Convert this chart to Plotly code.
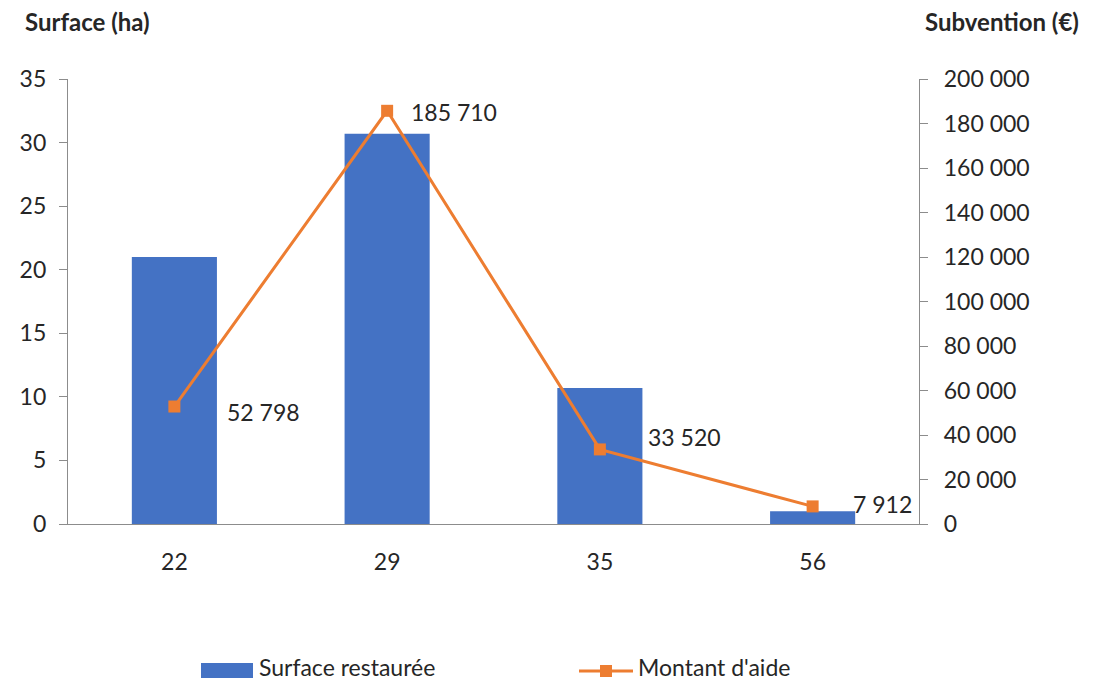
import plotly.graph_objects as go

categories = ["22", "29", "35", "56"]
surface_ha = [21.0, 30.7, 10.7, 1.0]
subvention_eur = [52798, 185710, 33520, 7912]

left_ticks = [0, 5, 10, 15, 20, 25, 30, 35]
right_ticks = [0, 20000, 40000, 60000, 80000, 100000, 120000, 140000,
               160000, 180000, 200000]

# label placement offsets (pixels) for the data labels of the line
label_dx = [51, 22, 46, 38]
label_dy = [-5, -1, 12, 2]

BLUE = "#4472C4"
ORANGE = "#ED7D31"
TXT = "#262626"
AX = "#8c8c8c"
FONT = "Lato"
FS = 23

# page body has an 8px offset; figure coords = page coords - 8
OFF = 8
PL, PR, PT, PB = 68 - OFF, 919 - OFF, 79 - OFF, 524 - OFF
W, H = 1109 - OFF, 682 - OFF


def fmt(v):
    return f"{v:,}".replace(",", " ")


fig = go.Figure()
fig.add_trace(go.Bar(
    x=categories, y=surface_ha, name="Surface restaurée",
    marker=dict(color=BLUE, line=dict(width=0)), width=0.4,
    yaxis="y", showlegend=False,
))
fig.add_trace(go.Scatter(
    x=categories, y=subvention_eur, name="Montant d'aide",
    mode="lines+markers",
    line=dict(color=ORANGE, width=3),
    marker=dict(symbol="square", size=12, color=ORANGE),
    yaxis="y2", showlegend=False, cliponaxis=False,
))

for i, (v, dx, dy) in enumerate(zip(subvention_eur, label_dx, label_dy)):
    fig.add_annotation(x=i, y=v, xref="x", yref="y2", text=fmt(v),
                       showarrow=False, xanchor="left", yanchor="middle",
                       xshift=dx, yshift=dy,
                       font=dict(family=FONT, size=FS, color=TXT))

fig.update_layout(
    width=W, height=H,
    margin=dict(l=PL, r=W - PR, t=PT, b=H - PB),
    paper_bgcolor="white", plot_bgcolor="white",
    font=dict(family=FONT, size=FS, color=TXT),
    xaxis=dict(
        type="category", range=[-0.5, 3.5],
        showline=True, linecolor=AX, linewidth=1.3,
        ticks="", showgrid=False, zeroline=False,
        tickfont=dict(family=FONT, size=FS, color=TXT),
        ticklabelstandoff=17,
    ),
    yaxis=dict(
        range=[0, 35], tickvals=left_ticks,
        showline=True, linecolor=AX, linewidth=1.3,
        ticks="outside", ticklen=8, tickcolor=AX, tickwidth=1.3,
        showgrid=False, zeroline=False,
        tickfont=dict(family=FONT, size=FS, color=TXT),
        ticklabelstandoff=8,
    ),
    yaxis2=dict(
        overlaying="y", side="right",
        range=[0, 200000], tickvals=right_ticks,
        ticktext=[fmt(v) for v in right_ticks],
        showline=True, linecolor=AX, linewidth=1.3,
        ticks="outside", ticklen=8, tickcolor=AX, tickwidth=1.3,
        showgrid=False, zeroline=False,
        tickfont=dict(family=FONT, size=FS, color=TXT),
        ticklabelstandoff=11,
    ),
)

PW, PH = PR - PL, PB - PT


def px(xp):
    return (xp - OFF - PL) / PW


def py(yp):
    return (PB - (yp - OFF)) / PH


# axis titles
fig.add_annotation(xref="paper", yref="paper", x=px(23), y=py(22),
                   xanchor="left", yanchor="middle", showarrow=False,
                   text="<b>Surface (ha)</b>",
                   font=dict(family=FONT, size=24, color=TXT))
fig.add_annotation(xref="paper", yref="paper", x=px(1081), y=py(21),
                   xanchor="right", yanchor="middle", showarrow=False,
                   text="<b>Subvention (€)</b>",
                   font=dict(family=FONT, size=24, color=TXT))

# custom legend
fig.add_shape(type="rect", xref="paper", yref="paper",
              x0=px(201), x1=px(253), y0=py(678), y1=py(663),
              fillcolor=BLUE, line=dict(width=0))
fig.add_annotation(xref="paper", yref="paper", x=px(257), y=py(667),
                   xanchor="left", yanchor="middle", showarrow=False,
                   text="Surface restaurée",
                   font=dict(family=FONT, size=FS, color=TXT))
fig.add_shape(type="line", xref="paper", yref="paper",
              x0=px(579), x1=px(633), y0=py(671), y1=py(671),
              line=dict(color=ORANGE, width=3))
fig.add_shape(type="rect", xref="paper", yref="paper",
              x0=px(600), x1=px(612), y0=py(677), y1=py(665),
              fillcolor=ORANGE, line=dict(width=0))
fig.add_annotation(xref="paper", yref="paper", x=px(636), y=py(667),
                   xanchor="left", yanchor="middle", showarrow=False,
                   text="Montant d'aide",
                   font=dict(family=FONT, size=FS, color=TXT))

fig.write_html("out.html")
